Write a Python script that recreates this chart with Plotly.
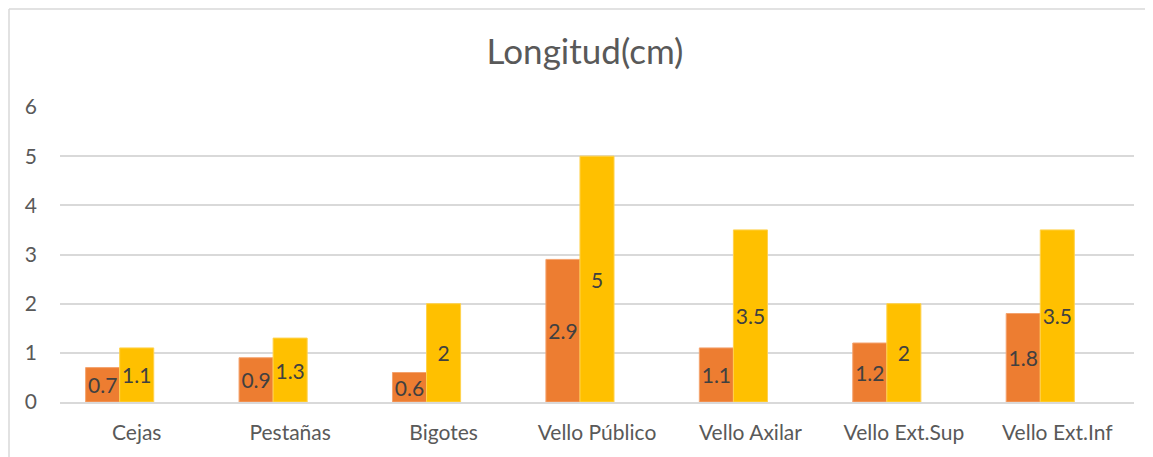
import plotly.graph_objects as go

categories = ["Cejas", "Pestañas", "Bigotes", "Vello Público", "Vello Axilar", "Vello Ext.Sup", "Vello Ext.Inf"]
serie_a = [0.7, 0.9, 0.6, 2.9, 1.1, 1.2, 1.8]
serie_b = [1.1, 1.3, 2.0, 5.0, 3.5, 2.0, 3.5]
y_ticks = [0, 1, 2, 3, 4, 5, 6]

FONT = "Lato"
bar_w = 0.222
W, H = 1153, 457
L, R, T, B = 52, 27, 99, 63
PW, PH = W - L - R, H - T - B

fig = go.Figure()
fig.add_trace(go.Bar(
    x=categories, y=serie_a, name="A",
    marker=dict(color="#ED7D31", line=dict(color="#F4A36E", width=1)),
    width=bar_w, offset=-1.5 * bar_w,
    text=[str(v) for v in serie_a], textposition="inside", insidetextanchor="middle", textangle=0,
    textfont=dict(family=FONT, size=21, color="#404040"), constraintext="none",
))
fig.add_trace(go.Bar(
    x=categories, y=serie_b, name="B",
    marker=dict(color="#FFC000", line=dict(color="#FFD24D", width=1)),
    width=bar_w, offset=-0.5 * bar_w,
    text=[("%g" % v) for v in serie_b], textposition="inside", insidetextanchor="middle", textangle=0,
    textfont=dict(family=FONT, size=21, color="#404040"), constraintext="none",
))

fig.update_layout(
    width=W, height=H,
    margin=dict(l=L, r=R, t=T, b=B),
    paper_bgcolor="white", plot_bgcolor="white",
    showlegend=False,
    barmode="overlay",
    title=dict(text="Longitud(cm)", x=577 / W, xref="container", xanchor="center",
               y=1 - 44 / H, yref="container", yanchor="middle",
               font=dict(family=FONT, size=35, color="#595959")),
    font=dict(family=FONT, color="#595959"),
)
fig.update_yaxes(range=[0, 6], tickvals=y_ticks, showgrid=True, gridcolor="#D9D9D9", gridwidth=1.5,
                 zeroline=False, showline=False, ticks="", ticklabelstandoff=22,
                 tickfont=dict(family=FONT, size=21, color="#595959"))
fig.update_xaxes(showgrid=False, showline=True, linecolor="#D9D9D9", linewidth=1.5, ticks="",
                 ticklabelstandoff=11, tickfont=dict(family=FONT, size=21, color="#595959"))

# outer chart frame (only left and top edges are visible in the reference)
x_left = (1 - L) / PW
y_top = 1 + (T - 1) / PH
fig.add_shape(type="line", xref="paper", yref="paper",
              x0=x_left, x1=x_left, y0=-0.5, y1=y_top,
              line=dict(color="#D9D9D9", width=1.5), layer="below")
fig.add_shape(type="line", xref="paper", yref="paper",
              x0=x_left, x1=1.5, y0=y_top, y1=y_top,
              line=dict(color="#D9D9D9", width=1.5), layer="below")

fig.write_html("out.html", config={"displayModeBar": False},
               post_script="document.documentElement.style.overflow='hidden';document.body.style.overflow='hidden';")
